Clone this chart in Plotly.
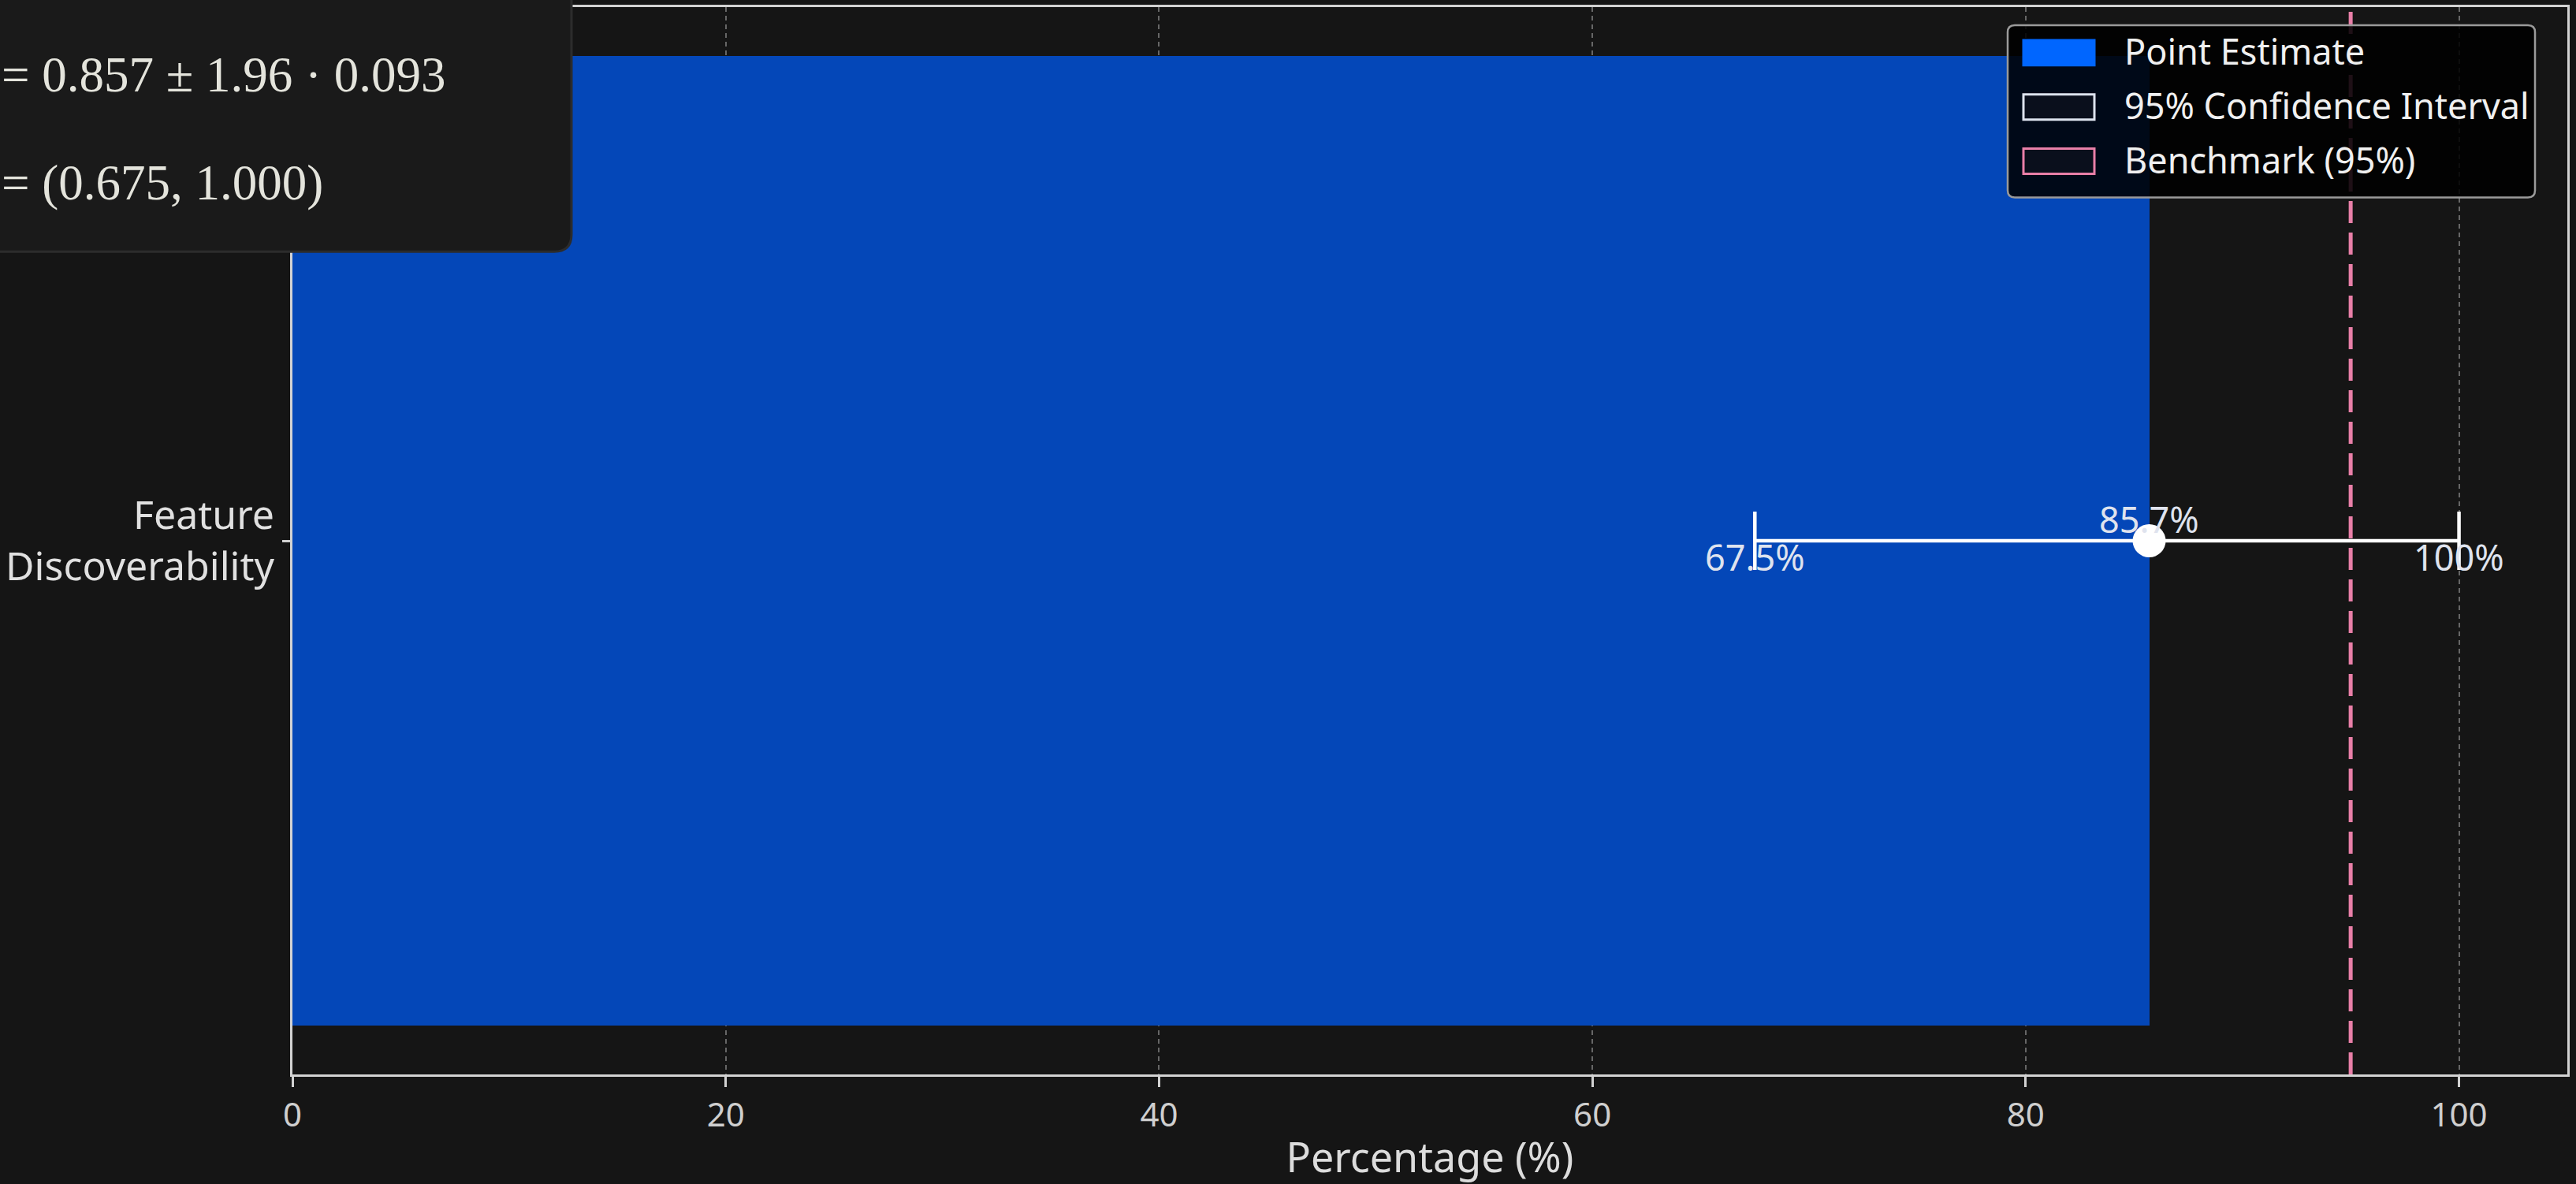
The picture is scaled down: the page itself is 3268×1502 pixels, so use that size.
import plotly.graph_objects as go

# ---------------- data ----------------
categories = ["Feature<br>Discoverability"]
point_estimate = [85.7]          # %
ci_lower = [67.5]                # %
ci_upper = [100.0]               # %
benchmark = 95                   # %
formula_lines = ["= 0.857 \u00b1 1.96 \u00b7 0.093", "= (0.675, 1.000)"]
legend_labels = ["Point Estimate", "95% Confidence Interval", "Benchmark (95%)"]
x_ticks = [0, 20, 40, 60, 80, 100]

# ---------------- layout geometry (pixels) ----------------
W, H = 3268, 1502
ML, MR, MT, MB = 371, 11, 6, 139
PW, PH = W - ML - MR, H - MT - MB


def px(xp):
    return (xp - ML) / PW


def py(yp):
    return 1 - (yp - MT) / PH


def rounded_path(x0, y0, x1, y1, r, corners="all"):
    X0, X1 = px(x0), px(x1)
    Y0, Y1 = py(y0), py(y1)  # Y0 top, Y1 bottom
    rx, ry = r / PW, r / PH
    if corners == "br":
        return (f"M{X0},{Y0} L{X1},{Y0} L{X1},{Y1 + ry} "
                f"Q{X1},{Y1} {X1 - rx},{Y1} L{X0},{Y1} Z")
    return (f"M{X0 + rx},{Y0} L{X1 - rx},{Y0} Q{X1},{Y0} {X1},{Y0 - ry} "
            f"L{X1},{Y1 + ry} Q{X1},{Y1} {X1 - rx},{Y1} L{X0 + rx},{Y1} "
            f"Q{X0},{Y1} {X0},{Y1 + ry} L{X0},{Y0 - ry} Q{X0},{Y0} {X0 + rx},{Y0} Z")


BG = "#151515"
BAR = "#0447b8"
PINK = "#e97fa8"
FONT = "Noto Sans"

fig = go.Figure()

fig.add_trace(go.Bar(
    x=point_estimate, y=categories, orientation="h", width=0.8,
    marker=dict(color=BAR, line=dict(width=0)), showlegend=False,
    hoverinfo="skip"))

fig.add_trace(go.Scatter(
    x=point_estimate, y=categories, mode="markers",
    marker=dict(color="white", size=42, line=dict(width=0)),
    error_x=dict(type="data", symmetric=False,
                 array=[u - p for u, p in zip(ci_upper, point_estimate)],
                 arrayminus=[p - l for p, l in zip(point_estimate, ci_lower)],
                 color="white", thickness=4.5, width=37),
    showlegend=False, hoverinfo="skip"))

# value labels
LBL = dict(family=FONT, size=45, color="#dfe3ee")
ann = [
    dict(x=point_estimate[0], y=0, xref="x", yref="y", text=f"{point_estimate[0]:.1f}%",
         showarrow=False, yshift=28, font=LBL),
    dict(x=ci_lower[0], y=0, xref="x", yref="y", text=f"{ci_lower[0]:.1f}%",
         showarrow=False, yshift=-20, font=LBL),
    dict(x=ci_upper[0], y=0, xref="x", yref="y", text=f"{ci_upper[0]:.0f}%",
         showarrow=False, yshift=-20, font=LBL),
]

# benchmark line
shapes = [dict(type="line", xref="x", yref="paper", x0=benchmark, x1=benchmark,
               y0=0, y1=1, line=dict(color=PINK, width=5, dash="28px,12px"),
               layer="above")]

# formula box (top-left, partly cut off)
shapes.append(dict(type="path", xref="paper", yref="paper",
                   path=rounded_path(-60, -60, 725, 317, 22, corners="br"),
                   fillcolor="#1a1a1a", line=dict(color="#2c2c2c", width=3),
                   layer="above"))
for t, yc in zip(formula_lines, [92, 229]):
    ann.append(dict(x=px(0), y=py(yc), xref="paper", yref="paper",
                    xanchor="left", yanchor="middle", text=t, showarrow=False,
                    font=dict(family="Liberation Serif", size=63, color="#e4e4dc")))

# custom legend
shapes.append(dict(type="path", xref="paper", yref="paper",
                   path=rounded_path(2547, 29, 3216, 248, 9),
                   fillcolor="rgba(0,0,0,0.87)", line=dict(color="#9a9a9a", width=2.5),
                   layer="above"))
sw_rows = [64, 133, 202]
sw_fill = ["#0066ff", "#0a0f1c", "#0a0f1c"]
sw_line = ["#0066ff", "#dde3ee", PINK]
for lab, yc, f, lc in zip(legend_labels, sw_rows, sw_fill, sw_line):
    shapes.append(dict(type="rect", xref="paper", yref="paper",
                       x0=px(2567), x1=px(2657), y0=py(yc + 16), y1=py(yc - 16),
                       fillcolor=f, line=dict(color=lc, width=3), layer="above"))
    ann.append(dict(x=px(2693), y=py(yc - 2), xref="paper", yref="paper",
                    xanchor="left", yanchor="middle", text=lab, showarrow=False,
                    font=dict(family=FONT, size=45, color="#f0f0f0")))

fig.update_layout(
    width=W, height=H,
    margin=dict(l=ML, r=MR, t=MT, b=MB, pad=0),
    paper_bgcolor=BG, plot_bgcolor=BG,
    shapes=shapes, annotations=ann, showlegend=False,
    font=dict(family=FONT, color="#d8d8d8"),
    bargap=0,
)
fig.update_xaxes(
    range=[0, 105], tickvals=x_ticks, ticktext=[str(v) for v in x_ticks],
    showgrid=True, gridcolor="rgba(170,170,170,0.55)", gridwidth=1.5, griddash="6px,5px",
    showline=True, linecolor="#d2d2d2", linewidth=3, mirror=True,
    ticks="outside", ticklen=13, tickwidth=2.5, tickcolor="#d2d2d2",
    tickfont=dict(family=FONT, size=42, color="#cfcfcf"),
    title=dict(text="Percentage (%)", font=dict(family=FONT, size=52, color="#dcdcdc"),
               standoff=16),
    zeroline=False, layer="above traces",
)
fig.update_yaxes(
    type="category", range=[-0.44, 0.44],
    showgrid=False, showline=True, linecolor="#d2d2d2", linewidth=3, mirror=True,
    ticks="outside", ticklen=10, tickwidth=2.5, tickcolor="#d2d2d2",
    tickfont=dict(family=FONT, size=50, color="#e0e0e0"),
    zeroline=False,
)

fig.write_html("out.html",
               config={"displayModeBar": False},
               post_script="document.body.style.margin='0';"
                           "document.body.style.overflow='hidden';")
